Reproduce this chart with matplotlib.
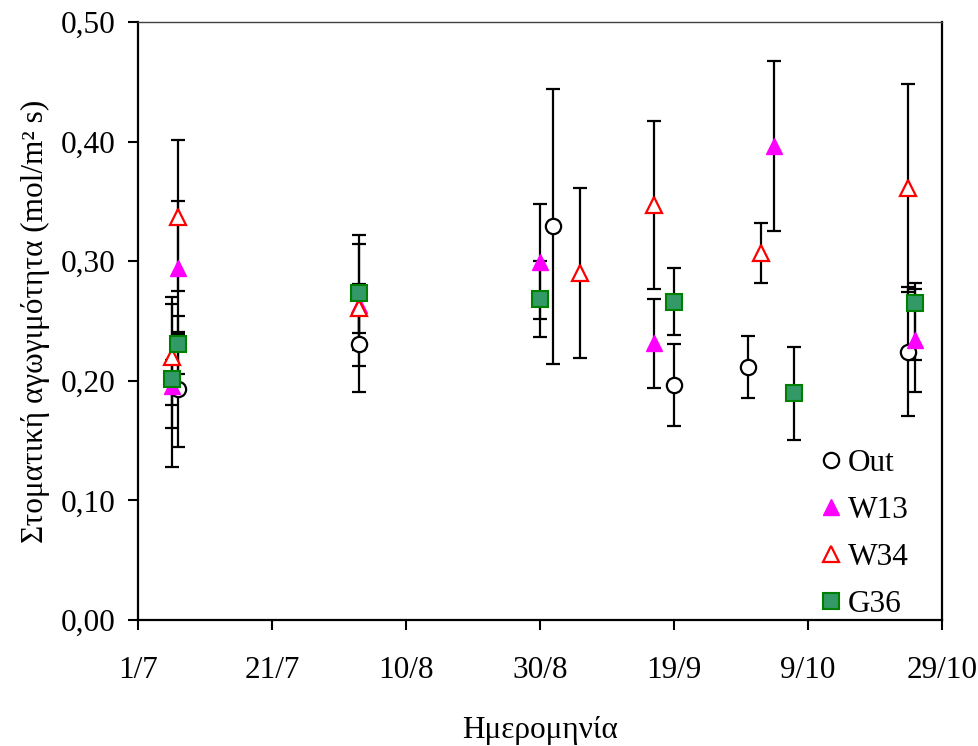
import numpy as np
import matplotlib
matplotlib.use("Agg")
import matplotlib.pyplot as plt

# =====================================================
# DATA (days counted from 1/7)
# =====================================================

tick_days = [0, 20, 40, 60, 80, 100, 120]
tick_labels = ["1/7", "21/7", "10/8", "30/8", "19/9", "9/10", "29/10"]

out_days = [6, 33, 62, 80, 91, 115]
out_vals = [0.193, 0.231, 0.329, 0.1965, 0.2115, 0.2243]
out_lo = [0.048, 0.040, 0.115, 0.034, 0.026, 0.054]
out_hi = [0.048, 0.040, 0.115, 0.034, 0.026, 0.054]

w13_days = [5, 6, 33, 60, 77, 95, 116]
w13_vals = [0.196, 0.294, 0.263, 0.2996, 0.2313, 0.3963, 0.234]
w13_lo = [0.068, 0.055, 0.051, 0.048, 0.037, 0.071, 0.043]
w13_hi = [0.068, 0.056, 0.051, 0.048, 0.037, 0.071, 0.043]

w34_days = [5, 6, 33, 66, 77, 93, 115]
w34_vals = [0.220, 0.337, 0.2606, 0.2904, 0.347, 0.3066, 0.361]
w34_lo = [0.040, 0.062, 0.0205, 0.071, 0.070, 0.025, 0.087]
w34_hi = [0.050, 0.064, 0.0205, 0.071, 0.070, 0.025, 0.087]

g36_days = [5, 6, 33, 60, 80, 98, 116]
g36_vals = [0.2015, 0.231, 0.2737, 0.2684, 0.266, 0.1896, 0.2647]
g36_lo = [0.041, 0.025, 0.048, 0.032, 0.028, 0.039, 0.047]
g36_hi = [0.016, 0.023, 0.048, 0.032, 0.028, 0.039, 0.017]

# =====================================================
# STYLE
# =====================================================

plt.rcParams["font.family"] = ["Liberation Serif", "DejaVu Serif"]
FS = 22.5

fig = plt.figure(figsize=(9.79, 7.46), dpi=100)
ax = fig.add_axes([0.141, 0.169, 0.821, 0.8015])

series = [
    ("Out", out_days, out_vals, out_lo, out_hi,
     dict(marker="o", ms=11, mfc="white", mec="black", mew=1.6)),
    ("W13", w13_days, w13_vals, w13_lo, w13_hi,
     dict(marker="^", ms=12, mfc="#ff00ff", mec="#ff00ff", mew=1)),
    ("W34", w34_days, w34_vals, w34_lo, w34_hi,
     dict(marker="^", ms=12, mfc="white", mec="#ff0000", mew=1.6)),
    ("G36", g36_days, g36_vals, g36_lo, g36_hi,
     dict(marker="s", ms=11, mfc="#339966", mec="#008000", mew=1.5)),
]

for name, d, v, lo, hi, mk in series:
    ax.errorbar(d, v, yerr=[lo, hi], fmt="none", ecolor="black",
                elinewidth=1.6, capsize=5, capthick=1.6, zorder=2)

for i, (name, d, v, lo, hi, mk) in enumerate(series):
    ax.plot(d, v, linestyle="none", label=name, zorder=3 + i, **mk)

# =====================================================
# AXES
# =====================================================

yticks = np.arange(0, 0.51, 0.1)

ax.set_xlim(0, 120)
ax.set_ylim(0, 0.5)
ax.set_xticks(tick_days)
ax.set_xticklabels(tick_labels)
ax.set_yticks(yticks)
ax.set_yticklabels([("%.2f" % t).replace(".", ",") for t in yticks])

ax.tick_params(axis="both", direction="out", length=7, width=1.5,
               labelsize=FS)
ax.tick_params(axis="y", pad=9)
ax.tick_params(axis="x", pad=19)

for s in ["left", "bottom", "right"]:
    ax.spines[s].set_linewidth(1.6)
    ax.spines[s].set_color("black")
ax.spines["top"].set_linewidth(1.0)
ax.spines["top"].set_color("#404040")

ax.set_xlabel("Ημερομηνία", fontsize=FS, labelpad=22)
ax.set_ylabel("Στοματική αγωγιμότητα (mol/m² s)", fontsize=FS, labelpad=8)

ax.legend(loc="upper left", bbox_to_anchor=(0.8505, 0.286), frameon=False,
          fontsize=FS, numpoints=1, handlelength=0.6, handletextpad=0.25,
          labelspacing=0.58, borderaxespad=0, borderpad=0)

fig.savefig("out.png", dpi=100)
